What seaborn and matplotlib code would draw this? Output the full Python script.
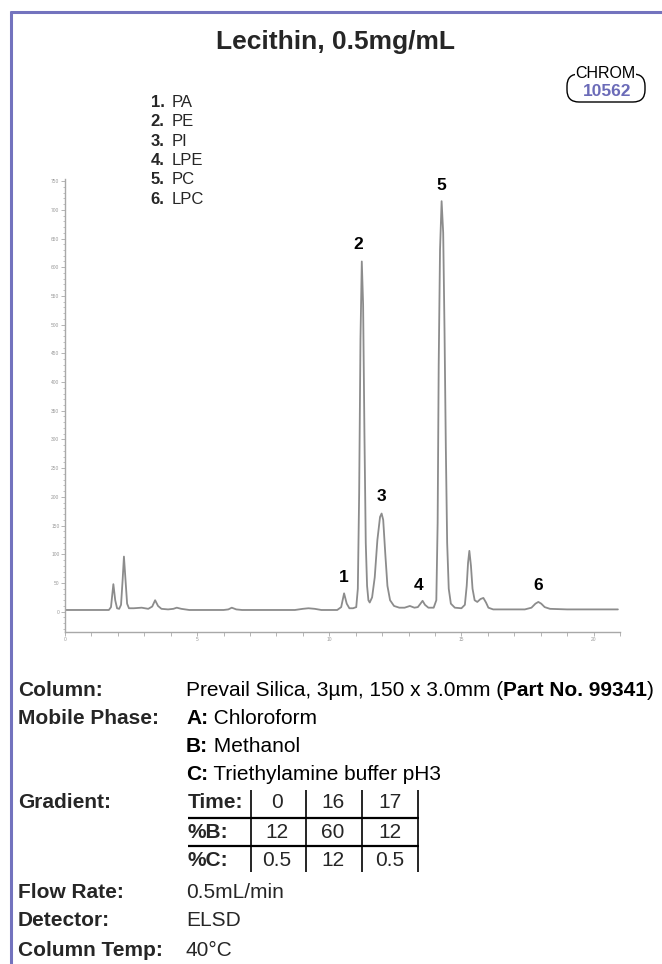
import numpy as np
import pandas as pd
import matplotlib
matplotlib.use("Agg")
import matplotlib.pyplot as plt
import seaborn as sns
from matplotlib.patches import FancyBboxPatch
from matplotlib.ticker import MultipleLocator, FixedLocator

# ---------------- data ----------------
title = "Lecithin, 0.5mg/mL"
chrom_word = "CHROM"
chrom_no = "10562"

peak_ids = ["1.", "2.", "3.", "4.", "5.", "6."]
compounds = ["PA", "PE", "PI", "LPE", "PC", "LPC"]

time_min = [0.00, 1.66, 1.74, 1.83, 1.90, 1.97, 2.05, 2.12, 2.18, 2.23, 2.29, 2.35, 2.42,
            2.60, 2.90, 3.15, 3.30, 3.41, 3.52, 3.65, 3.90, 4.10, 4.23, 4.40, 4.70,
            6.00, 6.18, 6.31, 6.48, 6.70, 8.70, 9.00, 9.21, 9.45, 9.70, 10.30, 10.45,
            10.56, 10.66, 10.76, 10.90, 11.02, 11.08, 11.13, 11.18, 11.23, 11.28, 11.33,
            11.38, 11.43, 11.48, 11.53, 11.62, 11.72, 11.82, 11.92, 11.98, 12.04, 12.12,
            12.20, 12.30, 12.45, 12.65, 12.85, 13.05, 13.22, 13.35, 13.45, 13.53, 13.62,
            13.75, 13.95, 14.05, 14.10, 14.14, 14.19, 14.25, 14.31, 14.36, 14.41, 14.46,
            14.52, 14.60, 14.75, 15.00, 15.13, 15.20, 15.25, 15.30, 15.36, 15.42, 15.50,
            15.60, 15.72, 15.83, 15.93, 16.02, 16.20, 17.40, 17.65, 17.80, 17.91, 18.02,
            18.15, 18.35, 19.00, 20.92]
signal = [3, 3, 8, 48, 20, 6, 5, 12, 55, 96, 55, 14, 6,
          6, 7, 5, 9, 20, 10, 5, 4, 5, 7, 5, 3,
          3, 4, 7, 4, 3, 3, 5, 6, 5, 3, 3, 8,
          32, 14, 6, 6, 8, 40, 205, 475, 610, 535, 310,
          120, 45, 20, 16, 25, 60, 125, 165, 171, 160, 100,
          45, 20, 10, 7, 7, 10, 7, 8, 14, 19, 12,
          7, 7, 20, 155, 430, 630, 715, 660, 490, 285, 120,
          40, 14, 7, 6, 12, 45, 85, 106, 80, 40, 20,
          17, 22, 24, 16, 7, 4, 4, 7, 14, 17, 14,
          8, 5, 4, 4]

label_text = ["1", "2", "3", "4", "5", "6"]
label_time = [10.56, 11.10, 11.98, 13.36, 14.23, 17.90]
label_signal = [60, 640, 200, 46, 742, 46]

x_ticks = [0, 5, 10, 15, 20]

column_parts = [("Prevail Silica, 3µm, 150 x 3.0mm (", "normal"),
                ("Part No. 99341", "bold"), (")", "normal")]
phase_keys = ["A:", "B:", "C:"]
phase_names = ["Chloroform", "Methanol", "Triethylamine buffer pH3"]
grad_rows = ["Time:", "%B:", "%C:"]
grad_time = ["0", "16", "17"]
grad_B = ["12", "60", "12"]
grad_C = ["0.5", "12", "0.5"]
flow_rate = "0.5mL/min"
detector = "ELSD"
col_temp = "40°C"

# ---------------- figure ----------------
W, H = 662, 964
sns.set_style("white")
plt.rcParams["font.family"] = ["Liberation Sans", "DejaVu Sans"]

fig = plt.figure(figsize=(W / 100, H / 100), dpi=100)
fig.patch.set_facecolor("white")

ax_l, ax_r, ax_t, ax_b = 65, 620, 178.8, 631.8
ax = fig.add_axes([ax_l / W, 1 - ax_b / H, (ax_r - ax_l) / W, (ax_b - ax_t) / H])

df = pd.DataFrame({"time": time_min, "signal": signal})
sns.lineplot(data=df, x="time", y="signal", ax=ax, color="#8c8c8c",
             linewidth=1.3, estimator=None, sort=False)
ax.set_xlabel("")
ax.set_ylabel("")
for s in ["top", "right"]:
    ax.spines[s].set_visible(False)
for s in ["left", "bottom"]:
    ax.spines[s].set_color("#a8a8a8")
    ax.spines[s].set_linewidth(1.0)
ax.xaxis.set_major_locator(FixedLocator(x_ticks))
ax.xaxis.set_minor_locator(MultipleLocator(1))
ax.set_yticks([v for v in range(0, 751, 50)])
ax.yaxis.set_minor_locator(MultipleLocator(10))
ax.tick_params(axis="both", which="major", direction="out", length=3, width=0.6,
               colors="#a8a8a8", labelcolor="#9a9a9a", labelsize=3.5, pad=1)
ax.tick_params(axis="x", which="minor", direction="out", length=3, width=0.6, colors="#a8a8a8")
ax.tick_params(axis="y", which="minor", direction="out", length=1.5, width=0.5, colors="#a8a8a8")
ax.tick_params(left=True, bottom=True, which="both")
ax.set_xlim(0, 21)
ax.set_ylim(-35, 754)

for txt, t, v in zip(label_text, label_time, label_signal):
    ax.text(t, v, txt, ha="center", va="center", fontsize=12.5, fontweight="bold", color="black")

# ---------------- overlay in pixel coords ----------------
ov = fig.add_axes([0, 0, 1, 1], zorder=5)
ov.set_xlim(0, W)
ov.set_ylim(H, 0)
ov.axis("off")

border = "#7373be"
ov.plot([11, 11], [11, H], color=border, lw=2.2, solid_capstyle="butt")
ov.plot([10, W], [12, 12], color=border, lw=2.2, solid_capstyle="butt")

ov.text(336, 42.5, title, ha="center", va="center", fontsize=19, fontweight="bold")

badge = FancyBboxPatch((567, 74), 78, 28, boxstyle="round,pad=0,rounding_size=12",
                       facecolor="none", edgecolor="black", lw=1.0, transform=ov.transData)
ov.add_patch(badge)
ov.text(605.5, 74, chrom_word, ha="center", va="center", fontsize=11.5, color="black",
        bbox=dict(facecolor="white", edgecolor="none", pad=0.5))
ov.text(607.5, 91.5, chrom_no, ha="center", va="center", fontsize=12.5, fontweight="bold",
        color="#6b6bb8")

for i, (pid, name) in enumerate(zip(peak_ids, compounds)):
    y = 102.7 + 19.3 * i
    ov.text(150.5, y, pid, ha="left", va="center", fontsize=12, fontweight="bold")
    ov.text(172, y, name, ha="left", va="center", fontsize=12)

fig.canvas.draw()
renderer = fig.canvas.get_renderer()
FS = 15


def runs(x, y, parts, size=FS):
    for s, wt in parts:
        t = ov.text(x, y, s, ha="left", va="center", fontsize=size, fontweight=wt, color="black")
        x += t.get_window_extent(renderer=renderer).width
    return x


lab_x, val_x = 18, 186
ov.text(lab_x, 690, "Column:", ha="left", va="center", fontsize=FS, fontweight="bold")
runs(val_x, 690, column_parts)
ov.text(lab_x, 718, "Mobile Phase:", ha="left", va="center", fontsize=FS, fontweight="bold")
for k, (key, name) in enumerate(zip(phase_keys, phase_names)):
    runs(val_x, [718, 746, 774][k], [(key, "bold"), (" " + name, "normal")])

ov.text(lab_x, 803, "Gradient:", ha="left", va="center", fontsize=FS, fontweight="bold")
row_y = [803, 832, 860]
col_cx = [277, 333, 390]
for r, (rname, vals) in enumerate(zip(grad_rows, [grad_time, grad_B, grad_C])):
    ov.text(188, row_y[r], rname, ha="left", va="center", fontsize=FS, fontweight="bold")
    for c, v in enumerate(vals):
        ov.text(col_cx[c], row_y[r], v, ha="center", va="center", fontsize=FS)
for yl in [818, 846]:
    ov.plot([188, 419], [yl, yl], color="black", lw=1.6, solid_capstyle="butt")
for xl in [251, 306, 362, 418]:
    ov.plot([xl, xl], [790, 872], color="black", lw=1.2, solid_capstyle="butt")

ov.text(lab_x, 892, "Flow Rate:", ha="left", va="center", fontsize=FS, fontweight="bold")
ov.text(val_x, 892, flow_rate, ha="left", va="center", fontsize=FS)
ov.text(lab_x, 920, "Detector:", ha="left", va="center", fontsize=FS, fontweight="bold")
ov.text(val_x, 920, detector, ha="left", va="center", fontsize=FS)
ov.text(lab_x, 950, "Column Temp:", ha="left", va="center", fontsize=FS, fontweight="bold")
ov.text(val_x, 950, col_temp, ha="left", va="center", fontsize=FS)

fig.savefig("out.png", dpi=100, facecolor="white")
